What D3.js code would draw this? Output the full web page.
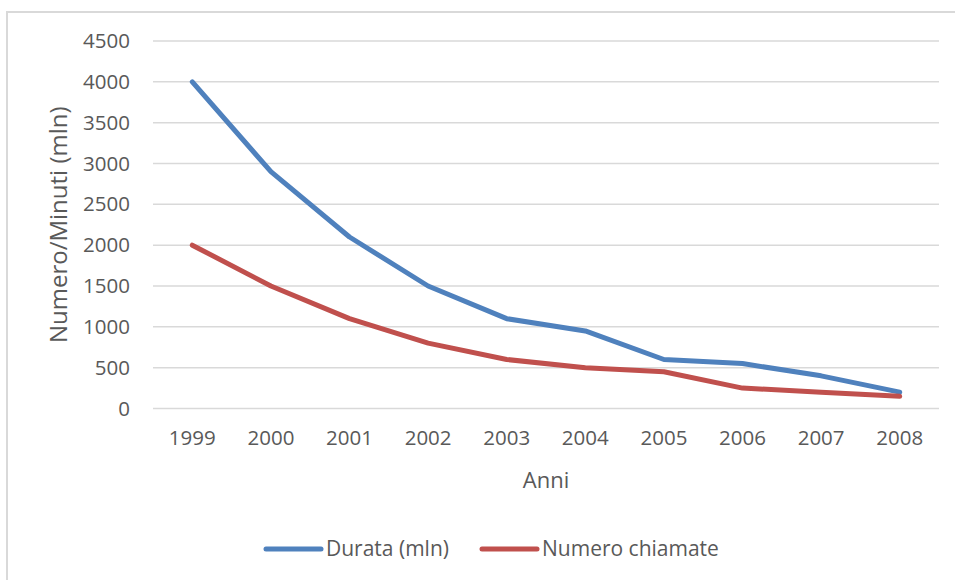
<!DOCTYPE html>
<html>
<head>
<meta charset="utf-8">
<script src="https://cdn.jsdelivr.net/npm/d3@7"></script>
<style>
  html, body { margin: 0; padding: 0; background: #fff; }
  svg { display: block; font-family: "Open Sans", "Liberation Sans", sans-serif; }
</style>
</head>
<body>
<svg id="chart" width="955" height="580"></svg>
<script>
// Series data
const years = ["1999", "2000", "2001", "2002", "2003", "2004", "2005", "2006", "2007", "2008"];
const durata = [4000, 2900, 2100, 1500, 1100, 950, 600, 550, 400, 200];
const chiamate = [2000, 1500, 1100, 800, 600, 500, 450, 250, 200, 150];
const yTicks = [0, 500, 1000, 1500, 2000, 2500, 3000, 3500, 4000, 4500];
const seriesNames = ["Durata (mln)", "Numero chiamate"];

const colors = ["#4f81bd", "#c0504d"];
const textColor = "#595959";
const gridColor = "#d9d9d9";

const svg = d3.select("#chart");

// outer chart frame
svg.append("rect")
  .attr("x", 7).attr("y", 12)
  .attr("width", 1000).attr("height", 1000)
  .attr("fill", "none")
  .attr("stroke", gridColor)
  .attr("stroke-width", 2);

const plot = { left: 153, right: 939, top: 41, bottom: 408.5 };

const x = d3.scaleBand()
  .domain(years)
  .range([plot.left, plot.right]);

const y = d3.scaleLinear()
  .domain([0, 4500])
  .range([plot.bottom, plot.top]);

// horizontal gridlines
svg.append("g")
  .selectAll("line")
  .data(yTicks)
  .join("line")
  .attr("x1", plot.left).attr("x2", plot.right)
  .attr("y1", d => y(d)).attr("y2", d => y(d))
  .attr("stroke", gridColor)
  .attr("stroke-width", 1.5);

// y axis labels
const yAxis = d3.axisLeft(y).tickValues(yTicks).tickFormat(d3.format("d")).tickSize(0).tickPadding(0);
const gy = svg.append("g")
  .attr("transform", `translate(130,0)`)
  .call(yAxis);
gy.select(".domain").remove();
gy.selectAll("text")
  .attr("fill", textColor)
  .style("font-size", "20.5px")
  .style("font-family", "'Open Sans', sans-serif");

// x axis labels
const xAxis = d3.axisBottom(x).tickSize(0).tickPadding(0);
const gx = svg.append("g")
  .attr("transform", `translate(0,${plot.bottom + 22})`)
  .call(xAxis);
gx.select(".domain").remove();
gx.selectAll("text")
  .attr("fill", textColor)
  .style("font-size", "20.5px")
  .style("font-family", "'Open Sans', sans-serif");

// axis titles
svg.append("text")
  .attr("x", (plot.left + plot.right) / 2)
  .attr("y", 488)
  .attr("text-anchor", "middle")
  .attr("fill", textColor)
  .style("font-size", "22px")
  .text("Anni");

svg.append("text")
  .attr("transform", `translate(67,${(plot.top + plot.bottom) / 2}) rotate(-90)`)
  .attr("text-anchor", "middle")
  .attr("fill", textColor)
  .style("font-size", "24px")
  .text("Numero/Minuti (mln)");

// lines
const line = d3.line()
  .x((d, i) => x(years[i]) + x.bandwidth() / 2)
  .y(d => y(d));

[durata, chiamate].forEach((vals, k) => {
  svg.append("path")
    .datum(vals)
    .attr("d", line)
    .attr("fill", "none")
    .attr("stroke", colors[k])
    .attr("stroke-width", 5)
    .attr("stroke-linejoin", "round")
    .attr("stroke-linecap", "round");
});

// legend
const legendItems = [
  { name: seriesNames[0], color: colors[0], x: 266 },
  { name: seriesNames[1], color: colors[1], x: 482 }
];
const lg = svg.append("g");
legendItems.forEach(it => {
  lg.append("line")
    .attr("x1", it.x).attr("x2", it.x + 55)
    .attr("y1", 549).attr("y2", 549)
    .attr("stroke", it.color)
    .attr("stroke-width", 5)
    .attr("stroke-linecap", "round");
  lg.append("text")
    .attr("x", it.x + 60)
    .attr("y", 556)
    .attr("fill", textColor)
    .style("font-size", "21px")
    .text(it.name);
});
</script>
</body>
</html>
